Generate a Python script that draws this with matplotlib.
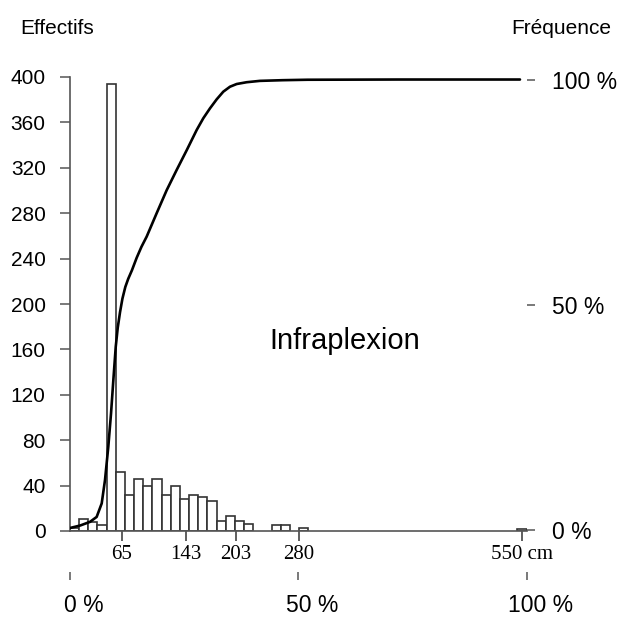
import numpy as np
import matplotlib
matplotlib.use('Agg')
import matplotlib.pyplot as plt
from matplotlib import transforms

plt.rcParams['font.family'] = ['Liberation Sans', 'DejaVu Sans']

# Histogram classes (centre of each class, cm) and counts
bin_width = 11.1
bin_centers = [8.05, 19.15, 30.25, 41.35, 52.45, 63.55, 74.65, 85.75, 96.85,
               107.95, 119.05, 130.15, 141.25, 152.35, 163.45, 174.55, 185.65,
               196.75, 207.85, 218.95, 252.25, 263.35, 285.55, 550.0]
counts = [3, 11, 8, 5, 394, 52, 32, 46, 40, 46, 32, 40, 28, 32, 30, 26, 9,
          13, 9, 6, 5, 5, 3, 2]

# Cumulative frequency curve (cm, %)
cum_x = [1.7, 15.0, 26.7, 34.8, 40.9, 44.9, 48.9, 52.2, 55.0, 57.9, 60.3,
         63.1, 66.0, 69.5, 73.0, 77.5, 83.3, 89.0, 95.4, 107.5, 119.6, 131.7,
         143.9, 156.0, 164.0, 172.1, 180.2, 188.2, 196.3, 204.4, 216.5,
         232.6, 260.0, 290.0, 400.0, 547.6]
cum_y = [0.3, 0.9, 1.7, 2.8, 5.8, 11.0, 18.4, 25.8, 33.2, 40.6, 44.8,
         48.3, 51.3, 53.9, 55.7, 57.6, 60.4, 62.8, 65.1, 70.3, 75.4, 79.9,
         84.3, 88.8, 91.4, 93.6, 95.6, 97.3, 98.4, 99.0, 99.4,
         99.7, 99.85, 99.95, 100.0, 100.0]

x_ticks = [65, 143, 203, 280, 550]
x_ticklabels = ['65', '143', '203', '280', '550 cm']
y_ticks = [0, 40, 80, 120, 160, 200, 240, 280, 320, 360, 400]
freq_ticks = [0, 50, 100]
range_ticks = [0, 50, 100]

W, H = 618, 617
fig = plt.figure(figsize=(W / 100, H / 100), dpi=100)
ax = fig.add_axes([70 / W, 1 - 531 / H, 457 / W, 454 / H])

gray = '#555555'
ax.bar(bin_centers, counts, width=bin_width, facecolor='white',
       edgecolor='#333333', linewidth=1.2, zorder=2)
ax.set_xlim(2.5, 556.1)
ax.set_ylim(0, 400)

for side in ['top', 'right']:
    ax.spines[side].set_visible(False)
for side in ['left', 'bottom']:
    ax.spines[side].set_color(gray)
    ax.spines[side].set_linewidth(1.2)

ax.set_yticks(y_ticks)
ax.set_yticklabels([str(v) for v in y_ticks])
ax.tick_params(axis='y', length=7.5, width=1.1, color=gray, pad=10,
               labelsize=15)
ax.set_xticks(x_ticks)
ax.set_xticklabels(x_ticklabels, family=['Liberation Serif', 'DejaVu Serif'])
ax.tick_params(axis='x', length=7, width=1.1, color='#333333', pad=3,
               labelsize=15)

# right axis: cumulative frequency
ax2 = ax.twinx()
ax2.plot(cum_x, cum_y, color='black', linewidth=1.9, zorder=3,
         solid_joinstyle='round', solid_capstyle='round')
ax2.set_ylim(-0.33, 100.56)
for side in ['top', 'right', 'left', 'bottom']:
    ax2.spines[side].set_visible(False)
ax2.set_yticks(freq_ticks)
ax2.set_yticklabels(['%d %%' % v for v in freq_ticks])
ax2.tick_params(axis='y', length=6, width=1.1, color=gray, pad=12,
                labelsize=16.5)

# bottom axis: percentage of the range
sec = ax.secondary_xaxis(-0.09, functions=(lambda v: (v - 2.5) / 5.536,
                                           lambda p: p * 5.536 + 2.5))
sec.spines['bottom'].set_visible(False)
sec.set_xticks(range_ticks)
sec.set_xticklabels([])
sec.tick_params(axis='x', length=6, width=1.1, color=gray)
for p in range_ticks:
    trans = transforms.blended_transform_factory(ax.transAxes, fig.transFigure)
    shift = -len(str(p)) * 0.556 * 16.5 / 2
    trans = transforms.offset_copy(trans, fig=fig, x=shift, units='points')
    fig.text(p / 100, 1 - 605 / H, '%d %%' % p, transform=trans,
             ha='left', va='center', fontsize=16.5)

fig.text(20 / W, 1 - 28 / H, 'Effectifs', ha='left', va='center',
         fontsize=15)
fig.text(611 / W, 1 - 28 / H, 'Fréquence', ha='right', va='center',
         fontsize=15)
fig.text(345 / W, 1 - 341 / H, 'Infraplexion', ha='center', va='center',
         fontsize=21)

fig.savefig('out.png', dpi=100)
